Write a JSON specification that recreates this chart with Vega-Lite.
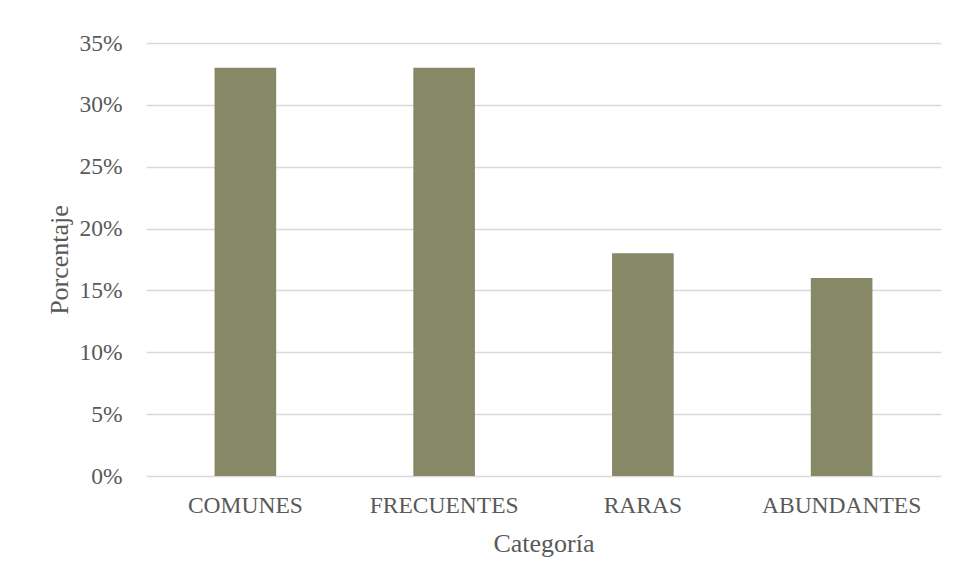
{
  "$schema": "https://vega.github.io/schema/vega-lite/v6.json",
  "autosize": {"type": "none"},
  "padding": {"left": 146, "top": 43, "right": 17, "bottom": 108},
  "width": 795,
  "height": 433,
  "background": "white",
  "data": {"values": [
    {"categoria": "COMUNES", "porcentaje": 0.33},
    {"categoria": "FRECUENTES", "porcentaje": 0.33},
    {"categoria": "RARAS", "porcentaje": 0.18},
    {"categoria": "ABUNDANTES", "porcentaje": 0.16}
  ]},
  "mark": {"type": "bar", "color": "#878966"},
  "encoding": {
    "x": {
      "field": "categoria", "type": "nominal", "sort": null,
      "scale": {"paddingInner": 0.69, "paddingOuter": 0.345},
      "axis": {
        "title": "Categoría", "labelAngle": 0, "domain": false, "ticks": false, "tickSize": 0,
        "labelPadding": 36, "labelBaseline": "alphabetic",
        "titleY": 75, "titleBaseline": "alphabetic"
      }
    },
    "y": {
      "field": "porcentaje", "type": "quantitative",
      "scale": {"domain": [0, 0.35], "nice": false},
      "axis": {
        "title": "Porcentaje", "format": ".0%", "values": [0, 0.05, 0.1, 0.15, 0.2, 0.25, 0.3, 0.35],
        "domain": false, "ticks": false, "tickSize": 0, "labelPadding": 24,
        "titleX": -78.5, "titleY": 216.5, "titleAngle": -90, "titleBaseline": "alphabetic", "titleAlign": "center"
      }
    }
  },
  "config": {
    "view": {"stroke": null},
    "axis": {
      "labelFont": "Liberation Serif", "labelFontSize": 23.5, "labelColor": "#595959",
      "titleFont": "Liberation Serif", "titleFontSize": 26, "titleColor": "#595959", "titleFontWeight": "normal",
      "gridColor": "#d9d9d9", "gridWidth": 1.5
    }
  }
}
